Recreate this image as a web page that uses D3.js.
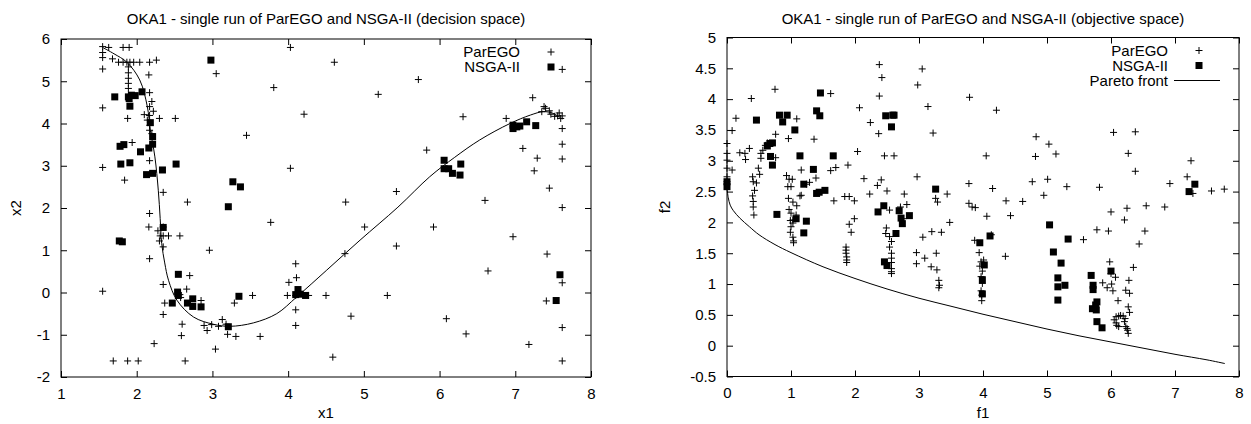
<!DOCTYPE html>
<html>
<head>
<meta charset="utf-8">
<script src="https://cdn.jsdelivr.net/npm/d3@7"></script>
<style>
  body { margin: 0; background: #fff; }
  svg text { font-family: "Liberation Sans", Arial, Helvetica, sans-serif; fill: #000; }
  .tick text, .legend text { font-size: 15px; }
  .title, .label { font-size: 15px; }
</style>
</head>
<body>
<svg width="1251" height="424"></svg>
<script>
// decision space (x1, x2)
const decisionXTicks = [1, 2, 3, 4, 5, 6, 7, 8];
const decisionYTicks = [-2, -1, 0, 1, 2, 3, 4, 5, 6];

const parEgoDecision = [
  [1.55,5.82],[1.63,5.80],[1.82,5.80],[1.90,5.80],[4.03,5.80],
  [1.55,5.68],[1.55,5.56],[1.68,5.53],[1.76,5.45],[1.82,5.45],[1.87,5.45],[1.91,5.45],[1.96,5.45],[2.04,5.45],[2.17,5.45],[2.26,5.50],[4.61,5.45],
  [1.55,5.29],[1.89,5.34],[1.89,5.20],[3.05,5.18],[2.16,5.15],
  [1.89,5.07],[1.89,4.95],[1.89,4.83],[2.17,4.73],[3.81,4.85],
  [1.55,4.37],[2.20,4.52],[2.17,4.40],[2.22,4.29],[2.10,4.21],[2.17,4.19],[2.14,4.08],[1.88,4.12],[2.30,4.12],[2.51,4.12],[4.21,4.22],
  [2.17,3.96],[2.17,3.84],[2.20,3.76],[3.45,3.72],[1.94,3.55],
  [2.17,3.12],[1.55,2.96],[4.03,2.94],[1.84,2.66],[2.35,2.37],[2.67,2.14],[4.76,2.14],
  [2.17,1.87],[2.16,1.55],[2.35,1.55],[3.77,1.66],
  [2.28,1.46],[2.31,1.34],[2.35,1.34],[2.42,1.34],[2.57,1.34],[2.30,1.22],[2.35,1.08],[2.96,1.00],[2.17,0.80],
  [2.35,0.19],[2.70,0.40],[2.66,0.08],[1.55,0.03],[2.37,-0.25],[2.85,-0.19],[3.29,-0.25],[3.53,-0.07],[2.35,-0.52],
  [2.57,-0.05],[2.58,-0.12],
  [2.60,-0.75],[2.59,-1.02],[2.89,-0.78],[2.93,-0.90],[2.99,-0.76],[3.08,-0.80],[3.13,-0.64],[3.18,-0.75],[3.20,-0.99],[3.31,-1.04],[3.63,-1.04],[2.23,-1.21],[3.04,-1.34],
  [1.69,-1.62],[1.88,-1.62],[2.02,-1.62],[2.64,-1.62],
  [4.10,0.68],[4.01,0.24],[4.11,0.35],[3.99,-0.07],[4.10,-0.07],[4.27,-0.07],[4.50,-0.07],[4.10,-0.41],[4.10,-0.78],[4.75,0.92],[4.83,-0.56],[4.59,-1.53],
  [5.72,5.04],[5.19,4.69],[6.31,4.16],[5.83,3.37],[7.23,4.61],[7.38,4.40],[6.88,4.12],
  [7.35,4.28],[7.40,4.36],[7.45,4.30],[7.47,4.22],[7.52,4.17],[7.56,4.18],[7.60,4.12],[7.62,4.18],[7.58,4.25],
  [7.62,3.88],[7.62,3.51],[7.62,3.16],[7.62,2.01],[7.62,5.28],[7.10,3.41],[7.29,3.18],[7.25,2.88],[7.45,2.47],[6.60,2.18],[5.43,2.39],[5.01,1.55],[5.92,1.55],
  [6.97,1.32],[7.42,0.91],[5.43,1.10],[6.64,0.51],[7.62,0.23],[5.31,-0.07],[7.41,-0.20],[6.09,-0.62],[6.35,-0.98],[7.18,-1.23],[7.62,-0.83],[7.62,-1.62]
];

const nsgaDecision = [
  [2.98,5.50],[2.07,4.75],[1.71,4.63],[1.89,4.63],[1.93,4.67],[1.98,4.66],[1.90,4.59],[1.91,4.41],[2.18,4.02],[2.21,3.69],[2.21,3.51],
  [1.78,3.46],[1.83,3.50],[2.05,3.33],[2.16,3.42],[1.79,3.04],[1.91,3.07],[2.13,2.79],[2.21,2.82],[2.34,2.90],[2.52,3.04],
  [3.27,2.62],[3.37,2.50],[3.21,2.03],[2.35,1.54],[1.77,1.22],[1.81,1.20],
  [2.55,0.43],[2.54,0.01],[2.55,-0.07],[2.47,-0.25],[2.67,-0.25],[2.74,-0.15],[2.74,-0.33],[2.85,-0.34],[3.35,-0.09],[3.21,-0.81],
  [4.13,0.07],[4.10,-0.05],[4.16,-0.04],[4.23,-0.07],
  [6.06,3.13],[6.06,2.93],[6.12,2.93],[6.17,2.82],[6.28,3.04],[6.27,2.78],
  [6.97,3.96],[6.97,3.88],[7.02,3.92],[7.06,3.94],[7.15,4.04],[7.27,3.95],
  [7.59,0.42],[7.54,-0.19]
];

// Pareto set as traced in the picture
const decisionCurve = [
  [1.55,5.80],[1.70,5.65],[1.87,5.45],[2.04,5.03],[2.14,4.40],[2.18,3.84],[2.24,3.21],[2.285,2.42],[2.31,1.75],[2.33,1.16],
  [2.37,0.70],[2.42,0.29],[2.53,-0.18],[2.75,-0.58],[3.01,-0.75],[3.23,-0.80],[3.54,-0.72],[3.85,-0.50],[4.11,-0.11],
  [4.51,0.53],[4.95,1.24],[5.45,2.02],[5.87,2.74],[6.20,3.20],[6.53,3.61],[6.93,4.00],[7.20,4.20],[7.37,4.28],[7.50,4.24],[7.59,4.14]
];

// objective space (f1, f2)
const objectiveXTicks = [0, 1, 2, 3, 4, 5, 6, 7, 8];
const objectiveYTicks = [-0.5, 0, 0.5, 1, 1.5, 2, 2.5, 3, 3.5, 4, 4.5, 5];

const parEgoObjective = [
  [0.08,3.49],[0.00,3.28],[0.00,3.12],[0.00,3.01],[0.00,2.88],[0.08,2.85],[0.00,2.74],[0.00,2.66],[0.14,3.69],[0.38,4.01],[0.75,4.16],
  [0.20,3.13],[0.28,3.12],[0.35,3.20],[0.29,3.02],
  [0.40,2.74],[0.41,2.66],[0.46,2.64],[0.43,2.52],[0.40,2.43],[0.41,2.34],[0.41,2.25],[0.42,2.12],
  [0.49,2.88],[0.51,2.78],[0.53,3.04],[0.53,3.12],[0.56,3.17],[0.60,3.25],[0.63,3.29],[0.76,3.43],[0.76,3.05],
  [0.93,2.76],[0.97,2.70],[1.02,2.70],[0.95,2.58],[1.00,2.58],[0.96,2.39],[1.03,2.33],[0.97,2.21],[1.09,2.27],[1.08,2.12],[1.03,2.04],
  [1.00,2.15],[0.99,2.03],[1.03,1.99],[1.00,1.93],[0.99,1.84],[1.03,1.76],[1.04,1.70],[1.04,1.67],
  [0.96,3.36],[1.09,3.68],[1.16,2.85],[1.16,2.44],[1.14,2.43],[1.24,2.62],[1.36,3.35],[1.39,2.72],[1.29,2.65],[1.62,4.09],[1.62,2.84],[1.70,2.89],[1.89,2.93],
  [1.84,2.42],[1.91,2.42],[1.99,2.35],[1.91,1.97],[1.99,2.06],[1.67,2.35],
  [2.04,3.15],[2.07,3.86],[2.14,2.71],[2.23,2.46],[2.24,3.62],[2.35,2.60],[2.41,2.69],
  [2.38,4.56],[2.42,4.35],[2.38,4.05],[2.37,3.44],[2.46,3.08],[2.61,3.08],[2.50,2.51],
  [2.77,2.46],[2.54,2.20],[2.71,2.25],[2.81,2.29],[2.75,2.06],
  [2.98,4.23],[3.05,4.49],[3.14,3.88],[3.22,3.45],[2.97,2.74],[3.26,2.39],[3.29,2.33],[3.44,2.46],[3.79,4.03],[3.78,2.63],[3.78,2.31],[3.48,2.00],
  [1.86,1.60],[1.86,1.55],[1.86,1.50],[1.87,1.44],[1.87,1.39],[1.87,1.35],[1.94,1.84],
  [2.49,1.91],[2.48,1.82],[2.54,1.77],[2.57,1.69],[2.54,1.60],[2.57,1.50],[2.57,1.42],[2.57,1.35],[2.57,1.25],[2.57,1.20],[2.57,1.17],
  [2.96,1.33],[3.09,1.42],[3.06,1.76],[3.20,1.85],[3.35,1.84],[3.27,1.50],[3.19,1.28],[3.28,1.23],[3.31,1.06],[3.32,0.98],[3.31,0.94],[2.96,1.51],
  [4.21,3.82],[4.83,3.39],[5.03,3.27],[5.14,3.11],[4.82,3.07],[4.05,3.08],[6.04,3.46],[6.38,3.47],[6.27,3.12],[6.38,2.83],
  [7.25,3.00],[7.19,2.74],[6.92,2.63],[7.28,2.47],[7.57,2.51],[7.77,2.54],
  [4.15,2.55],[4.77,2.66],[5.01,2.70],[5.31,2.58],[5.82,2.57],[4.95,2.44],[4.36,2.35],[4.62,2.34],[3.83,2.25],[3.88,2.24],[4.06,2.10],[4.43,2.11],
  [6.00,2.17],[6.25,2.23],[6.55,2.27],[6.84,2.25],[6.21,2.04],
  [5.78,1.88],[5.96,1.86],[6.53,1.86],[6.44,1.65],[5.57,1.72],
  [3.87,1.71],[3.94,1.51],[3.97,1.36],[4.01,1.39],[3.95,1.29],[3.99,1.21],[3.97,1.12],[3.99,1.01],[3.97,0.89],[3.98,0.82],[3.98,0.73],
  [4.13,1.80],[4.35,1.45],[5.98,1.36],[6.35,1.27],
  [6.07,1.11],[6.00,1.17],[5.87,1.02],[5.94,0.94],[6.01,1.00],[6.03,0.89],[6.28,1.06],[6.23,0.90],[6.29,0.85],[6.11,0.73],[6.27,0.63],[6.29,0.54],
  [6.05,0.42],[6.08,0.47],[6.12,0.48],[6.15,0.49],[6.19,0.48],[6.22,0.44],[6.08,0.37],[6.09,0.33],[6.12,0.31],[6.21,0.39],[6.23,0.31],[6.26,0.25],[6.27,0.20],[6.25,0.28]
];

const nsgaObjective = [
  [0.00,2.58],[0.00,2.66],[0.46,3.66],[0.82,3.74],[0.94,3.74],[0.87,3.63],[1.06,3.50],[0.63,3.24],[0.67,3.28],[0.71,3.29],[0.68,3.07],[0.71,2.93],
  [1.14,3.08],[1.40,3.81],[1.45,3.73],[1.46,4.10],[1.35,2.86],[1.20,2.62],[1.40,2.47],[1.44,2.49],[1.53,2.52],[1.66,3.08],
  [0.78,2.13],[1.08,2.06],[1.24,2.02],[1.20,1.83],
  [2.48,3.73],[2.59,3.74],[2.61,3.74],[2.57,3.55],[3.26,2.54],[2.36,2.17],[2.45,2.27],[2.69,2.19],[2.72,2.07],[2.74,1.98],[2.85,2.11],[2.64,1.82],[2.46,1.36],[2.50,1.30],
  [7.31,2.62],[7.22,2.50],[5.04,1.96],[4.11,1.78],[3.95,1.67],[5.33,1.73],[5.10,1.52],[5.22,1.34],[4.02,1.31],[3.99,1.07],
  [5.17,1.10],[5.17,0.955],[5.28,0.98],[5.17,0.74],[3.99,0.84],[5.69,1.14],[5.72,0.98],[5.72,0.91],[6.00,1.21],
  [5.78,0.71],[5.71,0.60],[5.77,0.58],[5.76,0.66],[5.78,0.39],[5.86,0.29]
];

const paretoFront = [
  [0,2.55],[0.02,2.40],[0.05,2.28],[0.1,2.19],[0.2,2.07],[0.35,1.93],[0.5,1.80],[0.75,1.64],[1,1.51],[1.5,1.28],[2,1.09],
  [2.5,0.92],[3,0.77],[3.5,0.64],[4,0.51],[4.5,0.39],[5,0.27],[5.5,0.16],[6,0.06],[6.5,-0.04],[7,-0.14],[7.5,-0.23],[7.78,-0.29]
];

const svg = d3.select('svg');
svg.append('rect').attr('width', 1251).attr('height', 424).attr('fill', '#fff');

const plusPath = 'M-3.5,0H3.5M0,-3.5V3.5';

function drawPanel(opt) {
  const { left, right, top, bottom } = opt.box;
  const x = d3.scaleLinear().domain(opt.xDomain).range([left, right]);
  const y = d3.scaleLinear().domain(opt.yDomain).range([bottom, top]);
  const g = svg.append('g');
  const fmt = d => String(d);
  const tl = 6;

  // axes with inward ticks, mirrored on top and right
  g.append('g').attr('transform', `translate(0,${bottom})`)
    .call(d3.axisBottom(x).tickValues(opt.xTicks).tickSizeInner(-tl).tickSizeOuter(0).tickPadding(11).tickFormat(fmt));
  g.append('g').attr('transform', `translate(0,${top})`)
    .call(d3.axisTop(x).tickValues(opt.xTicks).tickSizeInner(-tl).tickSizeOuter(0).tickFormat(''));
  g.append('g').attr('transform', `translate(${left},0)`)
    .call(d3.axisLeft(y).tickValues(opt.yTicks).tickSizeInner(-tl).tickSizeOuter(0).tickPadding(11).tickFormat(fmt));
  g.append('g').attr('transform', `translate(${right},0)`)
    .call(d3.axisRight(y).tickValues(opt.yTicks).tickSizeInner(-tl).tickSizeOuter(0).tickFormat(''));
  g.selectAll('.domain').remove();
  g.selectAll('.tick line').attr('stroke', '#000');
  g.selectAll('.tick text').attr('font-family', null).attr('font-size', null);

  g.append('rect')
    .attr('x', left).attr('y', top)
    .attr('width', right - left).attr('height', bottom - top)
    .attr('fill', 'none').attr('stroke', '#000').attr('stroke-width', 1);

  const line = d3.line().x(d => x(d[0])).y(d => y(d[1])).curve(d3.curveCatmullRom);
  g.append('path').datum(opt.curve)
    .attr('d', line).attr('fill', 'none').attr('stroke', '#000').attr('stroke-width', 1);

  g.selectAll('.plus').data(opt.parego).enter().append('path')
    .attr('class', 'plus')
    .attr('transform', d => `translate(${x(d[0])},${y(d[1])})`)
    .attr('d', plusPath).attr('stroke', '#000').attr('stroke-width', 1).attr('fill', 'none');

  g.selectAll('.sq').data(opt.nsga).enter().append('rect')
    .attr('class', 'sq')
    .attr('x', d => x(d[0]) - 3.5).attr('y', d => y(d[1]) - 3.5)
    .attr('width', 7).attr('height', 7).attr('fill', '#000');

  // legend
  const lg = g.append('g').attr('class', 'legend');
  const mx = right - 40, tx = right - 71;
  opt.legendRows.forEach((name, i) => {
    const ry = top + 13 + i * 15;
    lg.append('text').attr('x', tx).attr('y', ry).attr('dy', '0.36em')
      .attr('text-anchor', 'end').text(name);
    if (i === 0) {
      lg.append('path').attr('transform', `translate(${mx},${ry})`).attr('d', plusPath)
        .attr('stroke', '#000').attr('fill', 'none');
    } else if (i === 1) {
      lg.append('rect').attr('x', mx - 3.5).attr('y', ry - 3.5).attr('width', 7).attr('height', 7).attr('fill', '#000');
    } else {
      lg.append('line').attr('x1', mx - 25).attr('x2', mx + 21).attr('y1', ry).attr('y2', ry).attr('stroke', '#000');
    }
  });

  const cx = (left + right) / 2, cy = (top + bottom) / 2;
  svg.append('text').attr('class', 'title').attr('x', cx).attr('y', 24)
    .attr('text-anchor', 'middle').text(opt.title);
  svg.append('text').attr('class', 'label').attr('x', cx).attr('y', 418)
    .attr('text-anchor', 'middle').text(opt.xLabel);
  svg.append('text').attr('class', 'label')
    .attr('transform', `translate(${opt.yLabelX},${cy}) rotate(-90)`)
    .attr('text-anchor', 'middle').attr('dy', '0.36em').text(opt.yLabel);
}

drawPanel({
  box: { left: 61, right: 591, top: 39, bottom: 377 },
  xDomain: [1, 8], yDomain: [-2, 6],
  xTicks: decisionXTicks, yTicks: decisionYTicks,
  parego: parEgoDecision, nsga: nsgaDecision, curve: decisionCurve,
  legendRows: ['ParEGO', 'NSGA-II'],
  title: 'OKA1 - single run of ParEGO and NSGA-II (decision space)',
  xLabel: 'x1', yLabel: 'x2', yLabelX: 16
});

drawPanel({
  box: { left: 727, right: 1239, top: 37.5, bottom: 376.5 },
  xDomain: [0, 8], yDomain: [-0.5, 5],
  xTicks: objectiveXTicks, yTicks: objectiveYTicks,
  parego: parEgoObjective, nsga: nsgaObjective, curve: paretoFront,
  legendRows: ['ParEGO', 'NSGA-II', 'Pareto front'],
  title: 'OKA1 - single run of ParEGO and NSGA-II (objective space)',
  xLabel: 'f1', yLabel: 'f2', yLabelX: 665
});
</script>
</body>
</html>
